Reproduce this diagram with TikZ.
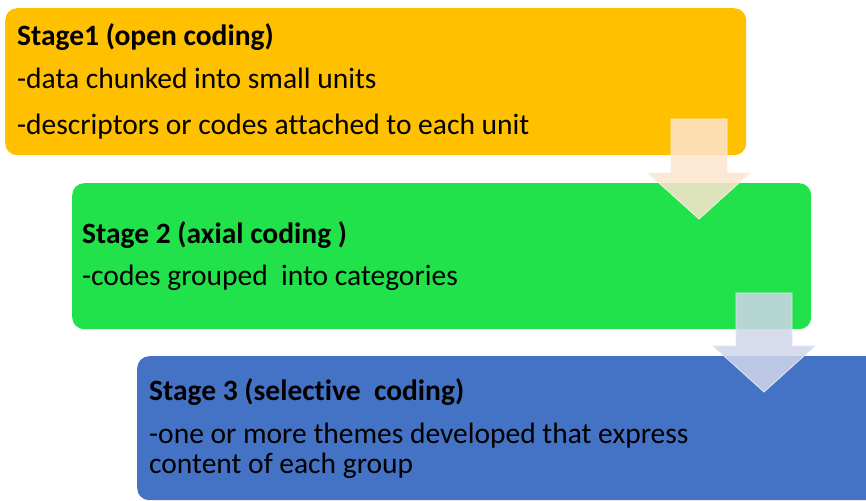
\documentclass[tikz,border=0pt]{standalone}
\usepackage{fontspec}
\setmainfont[Ligatures=NoCommon]{Carlito}
\usetikzlibrary{positioning}
\definecolor{stageorange}{RGB}{255,192,0}
\definecolor{stagegreen}{RGB}{34,226,75}
\definecolor{stageblue}{RGB}{68,114,196}
\definecolor{peach}{RGB}{252,228,205}
\definecolor{lavender}{RGB}{207,213,234}
\tikzset{
  stagebox/.style={rectangle, rounded corners=12pt, draw=none, anchor=north west, inner sep=0pt},
  txt/.style={anchor=base west, inner sep=0pt, font=\fontsize{29.5}{34}\selectfont},
  blockarrow/.style={fill opacity=0.86, line width=0.8pt}
}

\begin{document}
\begin{tikzpicture}[x=1pt,y=-1pt]

  \clip (0,0) rectangle (866,500);

  %% the three stages
  \node[stagebox, fill=stageorange, minimum width=741pt, minimum height=147pt] (stageA) at (5,8) {};
  \node[stagebox, fill=stagegreen, minimum width=739pt, minimum height=146pt] (stageB) at (72,183) {};
  \node[stagebox, fill=stageblue, minimum width=780pt, minimum height=144pt] (stageC) at (137,356) {};

  \node[txt] (titleA) at (17,46) {\bfseries Stage1 (open coding)};
  \node[txt] (lineA1) at (17,89) {-data chunked into small units};
  \node[txt] (lineA2) at (17,134) {-descriptors or codes attached to each unit};

  \node[txt] (titleB) at (82,243) {\bfseries Stage 2 (axial coding )};
  \node[txt] (lineB1) at (82,285) {-codes grouped\ \ into categories};

  \node[txt] (titleC) at (149,400) {\bfseries Stage 3 (selective\ \ coding)};
  \node[txt] (lineC1) at (149,443) {-one or more themes developed that express};
  \node[txt] (lineC2) at (149,473) {content of each group};

  %% down arrows
  \newcommand\DownBlock[5]{% x left of shaft, x right, top, head start, tip
    \path[blockarrow, #5] (#1,#3) -- (#2,#3) -- (#2,#4) -- ++(23,0)
      -- ({(#1+#2)/2},#4+46) -- (#1-23,#4) -- (#1,#4) -- cycle;}
  \DownBlock{671}{727}{119}{173}{fill=peach, draw=peach!60!white}
  \DownBlock{736}{792}{293}{346}{fill=lavender, draw=lavender!60!white}

\end{tikzpicture}
\end{document}
